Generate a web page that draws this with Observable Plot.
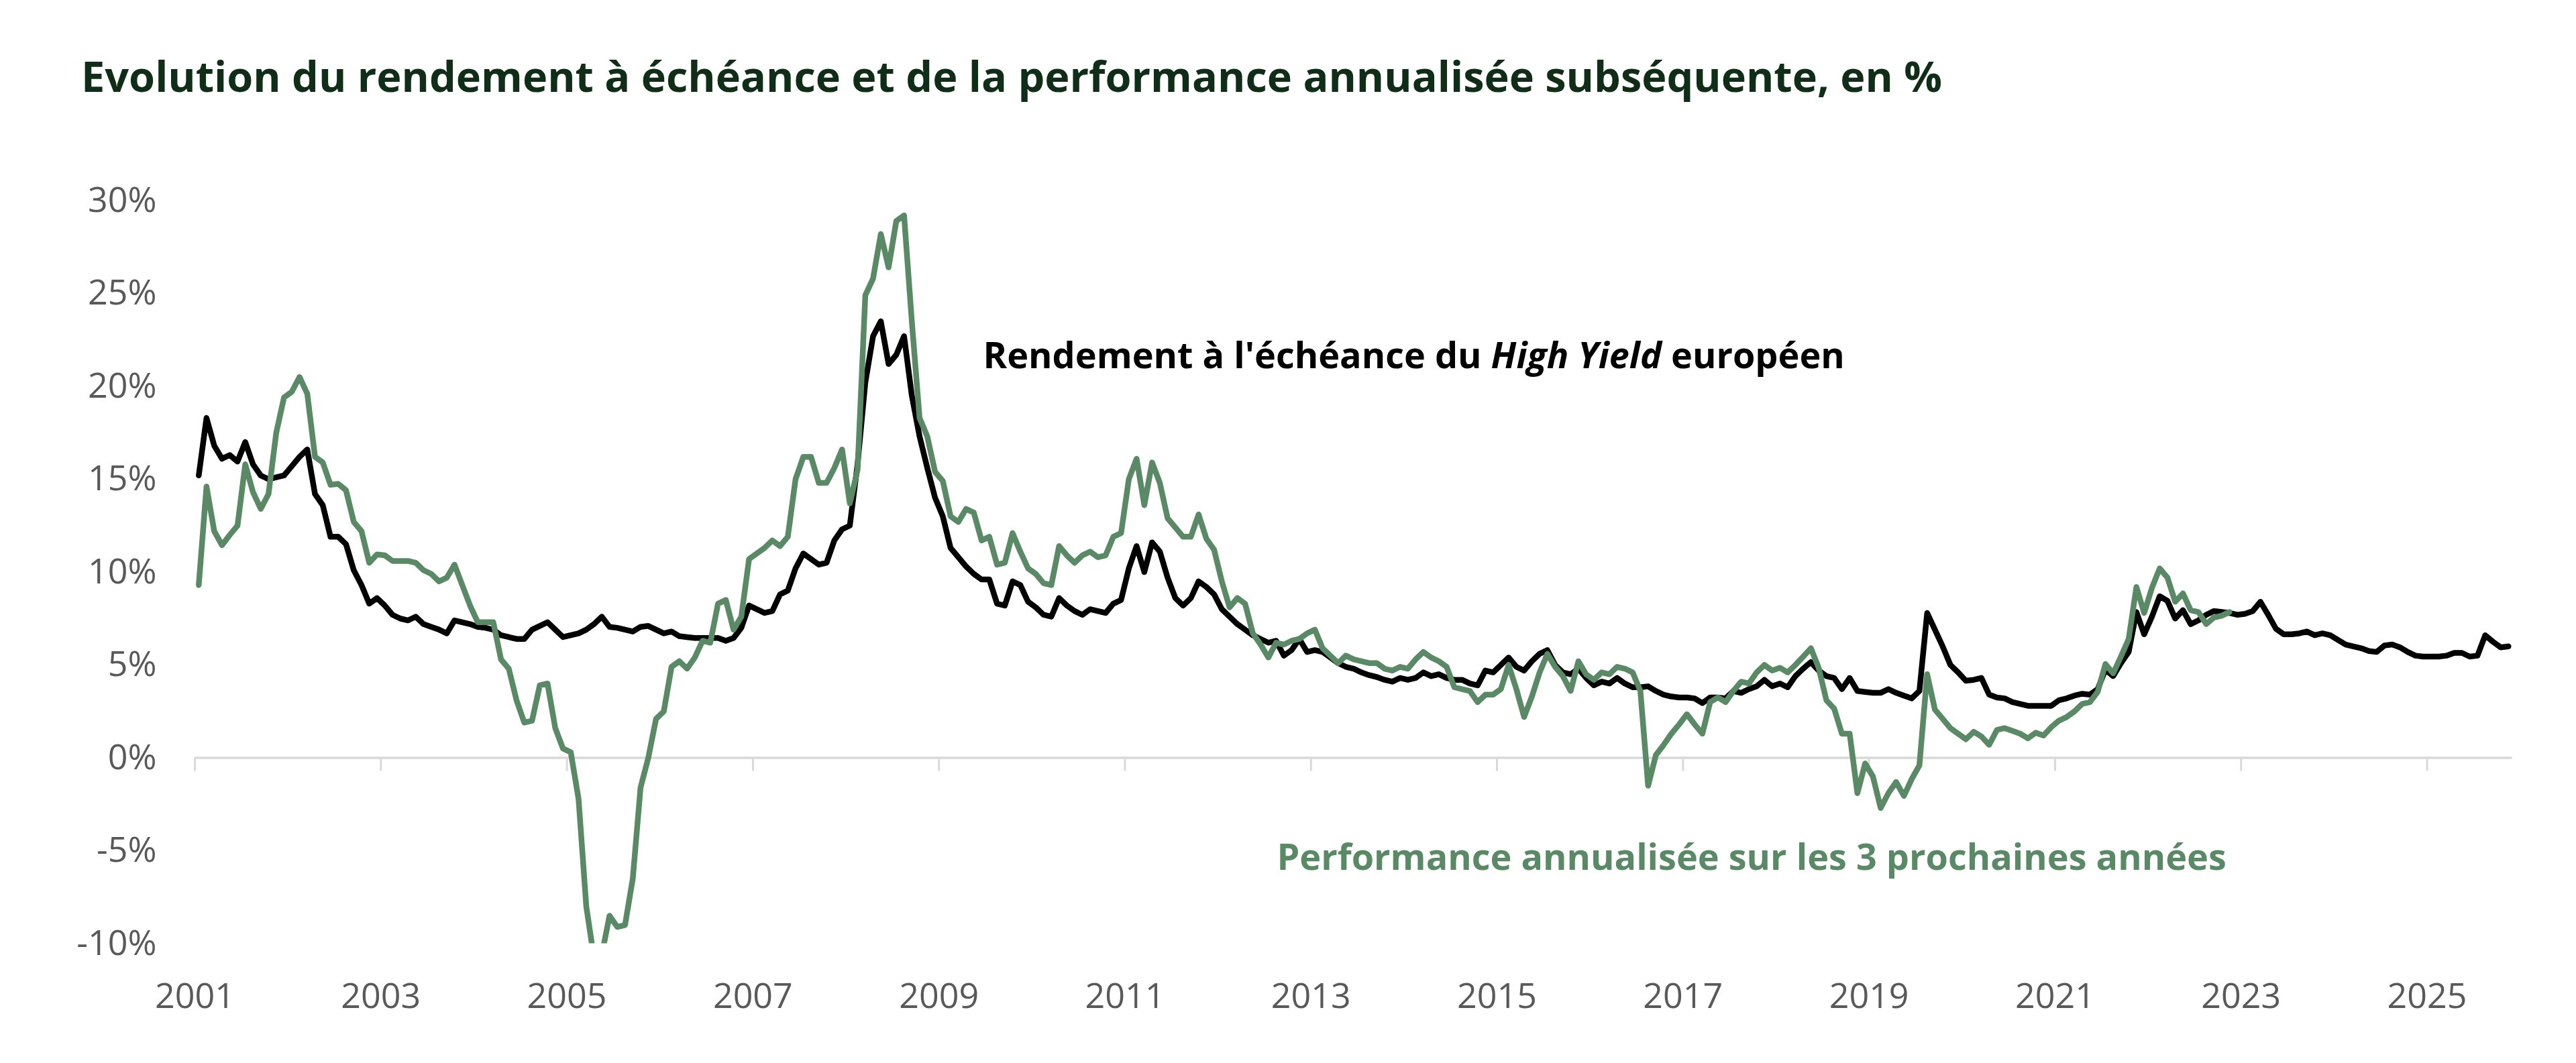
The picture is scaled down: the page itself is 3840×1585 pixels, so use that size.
<!DOCTYPE html>
<html>
<head>
<meta charset="utf-8">
<script src="https://cdn.jsdelivr.net/npm/d3@7"></script>
<script src="https://cdn.jsdelivr.net/npm/@observablehq/plot@0.6"></script>
<style>
  html, body { margin: 0; padding: 0; background: #fff; }
  #wrap { position: relative; width: 3840px; height: 1585px; background: #fff; overflow: hidden; }
  #title { position: absolute; left: 121px; top: 81px; font-family: "Open Sans"; font-weight: 700; font-size: 63px; line-height: 1; color: #0f2d17; white-space: nowrap; }
  #chart { position: absolute; left: 0; top: 200px; }
</style>
</head>
<body>
<div id="wrap">
  <div id="title">Evolution du rendement à échéance et de la performance annualisée subséquente, en %</div>
  <div id="chart"></div>
</div>
<script>
// ---- Data (monthly, first month = startMonth) ----
const startMonth = "2001-01";

// Rendement à l'échéance du High Yield européen (%)
const yieldHY = [
  15.2,18.3,16.8,16.1,16.3,15.95,17.0,15.8,15.2,15.0,15.1,15.2,15.7,16.2,16.6,14.2,13.6,11.9,11.9,11.5,
  10.1,9.3,8.3,8.6,8.2,7.7,7.5,7.4,7.6,7.2,
  7.05,6.9,6.7,7.4,7.3,7.2,7.05,7.0,6.9,6.6,
  6.5,6.4,6.4,6.9,7.1,7.3,6.9,6.5,6.6,6.7,
  6.9,7.2,7.6,7.05,7.0,6.9,6.8,7.05,7.1,6.9,
  6.7,6.8,6.55,6.5,6.45,6.45,6.45,6.45,6.3,6.45,
  7.0,8.2,8.0,7.8,7.9,8.8,9.0,10.2,11.0,10.7,
  10.4,10.5,11.7,12.3,12.5,15.8,20.2,22.7,23.5,21.2,
  21.7,22.7,19.5,17.3,15.6,14.0,13.0,11.3,10.8,10.3,
  9.9,9.6,9.6,8.3,8.2,9.5,9.3,8.4,8.1,7.7,
  7.6,8.6,8.2,7.9,7.7,8.0,7.9,7.8,8.3,8.5,
  10.2,11.4,10.0,11.6,11.1,9.7,8.6,8.2,8.6,9.5,
  9.2,8.8,8.0,7.6,7.2,6.9,6.6,6.4,6.2,6.3,
  5.5,5.8,6.4,5.7,5.8,5.7,5.4,5.1,4.9,4.8,
  4.6,4.45,4.35,4.2,4.1,4.3,4.2,4.3,4.6,4.4,
  4.5,4.3,4.2,4.2,4.0,3.9,4.7,4.6,5.0,5.4,
  4.9,4.7,5.2,5.6,5.8,5.0,4.6,4.5,4.8,4.3,
  3.9,4.1,4.0,4.3,4.0,3.8,3.8,3.85,3.6,3.4,
  3.3,3.25,3.25,3.2,2.95,3.25,3.25,3.2,3.6,3.5,
  3.7,3.85,4.2,3.85,4.0,3.8,4.4,4.8,5.15,4.7,
  4.4,4.3,3.7,4.3,3.6,3.55,3.5,3.5,3.7,3.5,
  3.35,3.2,3.6,7.8,6.9,6.0,5.0,4.6,4.15,4.2,
  4.3,3.4,3.25,3.2,3.0,2.9,2.8,2.8,2.8,2.8,
  3.1,3.2,3.35,3.45,3.4,3.7,4.75,4.4,5.1,5.7,
  7.85,6.65,7.6,8.7,8.45,7.5,7.95,7.2,7.4,7.7,
  7.9,7.85,7.8,7.7,7.75,7.9,8.4,7.7,6.95,6.65,
  6.65,6.7,6.8,6.6,6.7,6.6,6.35,6.1,6.0,5.9,
  5.75,5.7,6.05,6.1,5.95,5.7,5.5,5.45,5.45,5.45,
  5.5,5.65,5.65,5.45,5.5,6.6,6.25,5.95,6.0
];

// Performance annualisée sur les 3 prochaines années (%)
const perf3y = [
  9.3,14.6,12.2,11.45,12.0,12.5,15.8,14.3,13.4,14.2,
  17.5,19.4,19.7,20.5,19.6,16.2,15.9,14.7,14.75,14.4,
  12.7,12.2,10.5,10.95,10.9,10.6,10.6,10.6,10.5,10.1,
  9.9,9.5,9.7,10.4,9.3,8.2,7.3,7.3,7.3,5.3,
  4.8,3.1,1.9,2.0,3.9,4.0,1.6,0.5,0.3,-2.2,
  -8.0,-10.8,-10.6,-8.5,-9.1,-9.0,-6.5,-1.6,0.0,2.1,
  2.5,4.9,5.2,4.8,5.4,6.3,6.2,8.3,8.5,6.9,
  7.6,10.7,11.0,11.3,11.7,11.4,11.9,15.0,16.2,16.2,
  14.8,14.8,15.6,16.6,13.7,15.5,24.9,25.8,28.2,26.4,
  28.9,29.2,23.5,18.3,17.3,15.4,14.9,13.0,12.7,13.4,
  13.2,11.7,11.9,10.4,10.5,12.1,11.1,10.2,9.9,9.4,
  9.3,11.4,10.9,10.5,10.9,11.1,10.8,10.9,11.9,12.1,
  15.0,16.1,13.6,15.9,14.8,12.9,12.4,11.9,11.9,13.1,
  11.8,11.2,9.5,8.1,8.6,8.3,6.7,6.1,5.4,6.2,
  6.1,6.3,6.4,6.7,6.9,5.9,5.5,5.1,5.5,5.3,
  5.2,5.1,5.1,4.8,4.7,4.9,4.8,5.3,5.7,5.4,
  5.2,4.9,3.8,3.7,3.6,3.0,3.4,3.4,3.7,5.0,
  3.7,2.2,3.3,4.6,5.6,4.9,4.4,3.6,5.2,4.5,
  4.2,4.6,4.5,4.9,4.8,4.6,3.6,-1.5,0.15,0.7,
  1.3,1.8,2.35,1.8,1.3,3.0,3.25,3.0,3.6,4.1,
  4.0,4.6,5.0,4.7,4.85,4.6,5.0,5.45,5.9,4.85,
  3.1,2.65,1.3,1.3,-1.9,-0.3,-1.0,-2.7,-1.9,-1.3,
  -2.05,-1.15,-0.4,4.5,2.6,2.1,1.6,1.3,1.0,1.4,
  1.15,0.7,1.5,1.6,1.45,1.3,1.05,1.35,1.2,1.65,
  2.0,2.2,2.5,2.9,3.0,3.55,5.05,4.55,5.45,6.4,
  9.2,7.8,9.15,10.2,9.7,8.4,8.85,7.95,7.85,7.2,
  7.55,7.65,7.85
];

const yearLabels = [2001,2003,2005,2007,2009,2011,2013,2015,2017,2019,2021,2023,2025];
const yTicks = [-10,-5,0,5,10,15,20,25,30];
const labelYield = "Rendement à l'échéance du High Yield européen";
const labelPerf = "Performance annualisée sur les 3 prochaines années";

// ---- Build tables ----
const startYear = +startMonth.slice(0, 4);
const toRows = (arr) => arr.map((v, i) => ({pos: i + 0.5, v}));
const yieldRows = toRows(yieldHY);
const perfRows = toRows(perf3y);
const tickMonths = yearLabels.map(y => (y - startYear) * 12);

const GREEN = "#5a8a65";

const chart = Plot.plot({
  width: 3840,
  height: 1385,
  marginLeft: 290,
  marginRight: 95.4,
  marginTop: 98.5,
  marginBottom: 178.5,
  style: {fontFamily: "'Open Sans', sans-serif", fontSize: "52px", color: "#595959", background: "#fff"},
  x: {domain: [0, yieldHY.length], ticks: tickMonths, tickFormat: m => String(startYear + m / 12), tickSize: 0, tickPadding: 59.5, label: null},
  y: {domain: [-10, 30], ticks: yTicks, tickFormat: d => d + "%", tickSize: 0, tickPadding: 57, label: null},
  marks: [
    Plot.ruleY([0], {stroke: "#d9d9d9", strokeWidth: 3.5}),
    Plot.ruleX(tickMonths, {x: d => d, y1: 0, y2: 0, insetBottom: -20, stroke: "#d9d9d9", strokeWidth: 3}),
    Plot.line(yieldRows, {x: "pos", y: "v", stroke: "#000", strokeWidth: 8.5, strokeLinejoin: "round", clip: true}),
    Plot.line(perfRows, {x: "pos", y: "v", stroke: GREEN, strokeWidth: 8.5, strokeLinejoin: "round", clip: true}),
    Plot.text([labelYield], {x: 101.7, y: 21.6, text: d => d, textAnchor: "start", fontWeight: 700, fontSize: 54, fill: "#000"}),
    Plot.text([labelPerf], {x: 139.6, y: -5.4, text: d => d, textAnchor: "start", fontWeight: 700, fontSize: 54, fill: GREEN})
  ]
});

// Italicise "High Yield" inside the annotation
chart.querySelectorAll("text").forEach(t => {
  if (t.textContent === labelYield) {
    const parts = labelYield.split("High Yield");
    t.textContent = "";
    const ns = "http://www.w3.org/2000/svg";
    const a = document.createElementNS(ns, "tspan"); a.textContent = parts[0];
    const b = document.createElementNS(ns, "tspan"); b.textContent = "High Yield"; b.setAttribute("font-style", "italic");
    const c = document.createElementNS(ns, "tspan"); c.textContent = parts[1];
    t.append(a, b, c);
  }
});

document.getElementById("chart").appendChild(chart);
</script>
</body>
</html>
